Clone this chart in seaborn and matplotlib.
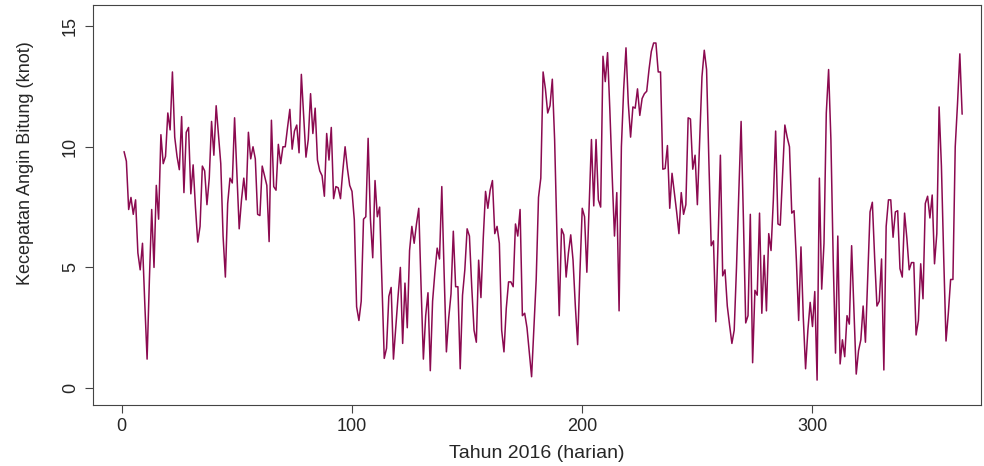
# Kecepatan angin Bitung harian 2016
import numpy as np
import pandas as pd
import matplotlib
matplotlib.use("Agg")
import matplotlib.pyplot as plt
import seaborn as sns

# data
jan_jun = [9.8, 9.4, 7.4, 7.9, 7.2, 7.8, 5.6, 4.9, 6.0, 3.5,
           1.2, 4.5, 7.4, 5.0, 8.4, 7.0, 10.5, 9.3, 9.6, 11.4,
           10.7, 13.1, 10.4, 9.6, 9.05, 11.25, 8.1, 10.6, 10.8, 8.05,
           9.25, 7.5, 6.05, 6.7, 9.2, 9.0, 7.6, 8.7, 11.05, 9.65,
           11.7, 10.5, 9.3, 6.3, 4.6, 7.65, 8.7, 8.5, 11.2, 8.9,
           6.6, 7.8, 8.7, 7.8, 10.6, 9.5, 10.0, 9.5, 7.2, 7.15,
           9.2, 8.8, 8.4, 6.07, 11.1, 8.35, 8.2, 10.1, 9.3, 10.0,
           10.0, 10.8, 11.55, 9.9, 10.65, 10.9, 9.75, 13.0, 11.3, 9.57,
           10.3, 12.2, 10.55, 11.6, 9.45, 9.0, 8.8, 7.95, 10.55, 9.45,
           10.8, 7.85, 8.35, 8.3, 7.85, 9.0, 10.0, 9.1, 8.4, 8.15,
           6.97, 3.37, 2.8, 3.6, 7.0, 7.1, 10.35, 7.0, 5.4, 8.6,
           7.1, 7.5, 4.4, 1.23, 1.65, 3.8, 4.17, 1.2, 2.5, 3.8,
           5.0, 1.85, 4.35, 2.5, 5.7, 6.7, 6.0, 6.8, 7.45, 4.2,
           1.2, 3.0, 3.95, 0.72, 3.6, 4.8, 5.8, 5.35, 8.35, 4.8,
           1.5, 2.9, 3.9, 6.5, 4.2, 4.2, 0.8, 3.85, 4.9, 6.6,
           6.3, 4.2, 2.4, 1.9, 5.3, 3.75, 6.2, 8.15, 7.45, 8.2,
           8.6, 6.4, 6.7, 6.0, 2.4, 1.5, 3.3, 4.4, 4.4, 4.2,
           6.8, 6.3, 7.4, 3.0, 3.1, 2.5, 1.5, 0.47, 2.5, 4.5,
           7.9, 8.7]
jul_des = [13.1, 12.4, 11.4, 11.7, 12.8, 10.3, 6.4, 3.0,
           6.6, 6.35, 4.6, 5.6, 6.35, 5.3, 3.4, 1.8, 4.8, 7.45,
           7.1, 4.8, 7.5, 10.3, 7.55, 10.3, 7.8, 7.5, 13.75, 12.7,
           13.9, 11.5, 8.8, 6.3, 8.1, 3.2, 10.0, 12.4, 14.1, 11.8,
           10.4, 11.65, 11.6, 12.4, 11.3, 12.0, 12.2, 12.3, 13.2, 13.95,
           14.3, 14.3, 13.1, 13.1, 9.07, 9.1, 10.05, 7.45, 8.9, 8.1,
           7.3, 6.4, 8.1, 7.2, 7.6, 11.2, 11.15, 9.07, 9.65, 7.6,
           10.3, 12.9, 14.0, 13.2, 9.4, 5.9, 6.1, 2.75, 6.1, 9.65,
           4.65, 4.9, 3.4, 2.6, 1.85, 2.4, 5.0, 8.1, 11.05, 7.0,
           2.7, 3.0, 7.2, 1.05, 4.05, 3.85, 7.25, 3.1, 5.5, 3.2,
           6.4, 5.7, 7.8, 10.65, 6.8, 6.75, 8.8, 10.9, 10.4, 10.0,
           7.25, 7.35, 5.3, 2.8, 5.85, 2.95, 0.8, 2.4, 3.55, 2.55,
           4.0, 0.33, 8.7, 4.1, 6.0, 11.4, 13.2, 10.3, 5.3, 1.45,
           6.3, 1.0, 2.0, 1.3, 3.0, 2.65, 5.9, 3.3, 0.58, 1.55,
           2.0, 3.4, 1.9, 4.6, 7.3, 7.7, 5.4, 3.4, 3.6, 5.35,
           0.75, 6.7, 7.8, 7.8, 6.25, 7.3, 7.35, 4.95, 4.6, 7.25,
           6.2, 4.9, 5.2, 5.2, 2.2, 2.8, 5.15, 3.7, 7.65, 7.95,
           7.05, 8.0, 5.15, 6.4, 11.65, 9.2, 5.4, 1.95, 3.1, 4.5,
           4.5, 10.0, 11.8, 13.85, 11.35]
angin = jan_jun + jul_des
hari = np.arange(1, len(angin) + 1)

x_ticks = [0, 100, 200, 300]
y_ticks = [0, 5, 10, 15]

df = pd.DataFrame({"hari": hari, "angin": angin})

sns.set_style("ticks")
plt.rcParams["font.family"] = ["Liberation Sans", "DejaVu Sans"]

fig = plt.figure(figsize=(9.84, 4.66), dpi=100)
ax = fig.add_axes([0.0945, 0.131, 0.902, 0.858])

sns.lineplot(data=df, x="hari", y="angin", color="#8b0a50", linewidth=1.1, ax=ax)

ax.set_xlim(-12.5, 373)
ax.set_ylim(-0.7, 15.87)
ax.set_xticks(x_ticks)
ax.set_yticks(y_ticks)
ax.set_yticklabels([str(v) for v in y_ticks], rotation=90, va="center")
ax.tick_params(labelsize=13, length=6, width=0.8, color="#444444")
ax.tick_params(axis="y", pad=4)
ax.set_xlabel("Tahun 2016 (harian)", fontsize=14, labelpad=7)
ax.set_ylabel("Kecepatan Angin Bitung (knot)", fontsize=13)
# label y di R agak ke atas dari tengah
ax.yaxis.set_label_coords(-0.066, 0.605)

for s in ax.spines.values():
    s.set_linewidth(0.8)
    s.set_color("#444444")

fig.savefig("out.png", dpi=100)
